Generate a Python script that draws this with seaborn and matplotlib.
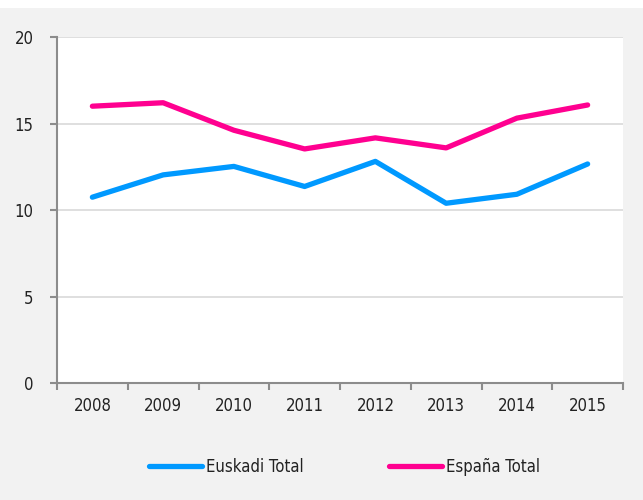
import numpy as np
import pandas as pd
import matplotlib.pyplot as plt
import seaborn as sns
from matplotlib.ticker import FixedLocator

# data
years = ['2008', '2009', '2010', '2011', '2012', '2013', '2014', '2015']
euskadi = [10.74, 12.03, 12.52, 11.36, 12.81, 10.39, 10.91, 12.66]
espana = [16.0, 16.2, 14.61, 13.53, 14.17, 13.59, 15.31, 16.07]
series_names = ['Euskadi Total', 'España Total']
palette = {'Euskadi Total': '#0099FF', 'España Total': '#FF0090'}

df = pd.concat([
    pd.DataFrame({'year': years, 'value': euskadi, 'serie': series_names[0]}),
    pd.DataFrame({'year': years, 'value': espana, 'serie': series_names[1]}),
])

sns.set_style('ticks')
plt.rcParams['font.family'] = ['DejaVu Sans']
plt.rcParams['font.stretch'] = 'condensed'
text_col = '#222222'
axis_col = '#8c8c8c'
fs = 12

fig = plt.figure(figsize=(6.43, 5.0), dpi=100, facecolor='#f2f2f2')
ax = fig.add_axes([57/643, 117/500, 566/643, 346/500])
ax.set_facecolor('white')

sns.lineplot(data=df, x='year', y='value', hue='serie', palette=palette,
             linewidth=3.8, sort=False, ax=ax, legend=False,
             solid_capstyle='round')

ax.set_xlim(-0.5, len(years) - 0.5)
ax.set_ylim(0, 20)
ax.set_yticks([0, 5, 10, 15, 20])
ax.yaxis.grid(True, color='#d9d9d9', linewidth=1.2)
ax.set_axisbelow(True)
ax.set_xlabel('')
ax.set_ylabel('')

for s in ['top', 'right']:
    ax.spines[s].set_visible(False)
for s in ['left', 'bottom']:
    ax.spines[s].set_color(axis_col)
    ax.spines[s].set_linewidth(1.5)

ax.xaxis.set_minor_locator(FixedLocator(np.arange(-0.5, len(years), 1.0)))
ax.tick_params(axis='x', which='major', bottom=True, length=0, pad=10,
               labelsize=fs, labelcolor=text_col)
ax.tick_params(axis='x', which='minor', bottom=True, length=5, width=1.5,
               color=axis_col, direction='out')
ax.tick_params(axis='y', which='major', left=True, length=5, width=1.5, color=axis_col,
               direction='out', pad=12, labelsize=fs, labelcolor=text_col)

handles = [plt.Line2D([], [], color=palette[n], linewidth=3.8, solid_capstyle='round')
           for n in series_names]
fig.legend(handles, series_names, loc='center', bbox_to_anchor=(0.536, 0.066),
           ncol=2, frameon=False, fontsize=fs, handlelength=3.2, handletextpad=0.25,
           columnspacing=5.1, labelcolor=text_col)

# white strip at the top edge like the reference
fig.patches.append(plt.Rectangle((0, 492/500), 1, 8/500, transform=fig.transFigure,
                                 facecolor='white', edgecolor='none'))

plt.savefig('out.png', dpi=100, facecolor=fig.get_facecolor())
